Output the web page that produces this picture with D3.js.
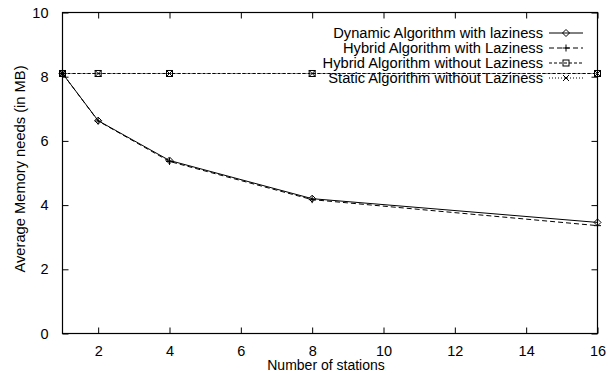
<!DOCTYPE html>
<html><head><meta charset="utf-8">
<script src="https://cdn.jsdelivr.net/npm/d3@7"></script>
<style>body{margin:0;background:#fff}svg{display:block}text{font-family:"Liberation Sans",Arial,sans-serif;fill:#000}</style>
</head><body><svg id="c" width="608" height="373"></svg>
<script>
const stations = [1, 2, 4, 8, 16];
const dynamicLazy = [8.1, 6.63, 5.39, 4.2, 3.46];
const hybridLazy = [8.1, 6.62, 5.36, 4.17, 3.36];
const hybridNoLazy = [8.1, 8.1, 8.1, 8.1, 8.1];
const staticNoLazy = [8.1, 8.1, 8.1, 8.1, 8.1];
const xTicks = [2, 4, 6, 8, 10, 12, 14, 16];
const yTicks = [0, 2, 4, 6, 8, 10];
const seriesNames = ["Dynamic Algorithm with laziness", "Hybrid Algorithm with Laziness", "Hybrid Algorithm without Laziness", "Static Algorithm without Laziness"];

const series = [
  {name: seriesNames[0], values: dynamicLazy, dash: null, marker: "diamond"},
  {name: seriesNames[1], values: hybridLazy, dash: "5,3", marker: "plus"},
  {name: seriesNames[2], values: hybridNoLazy, dash: "3,2", marker: "square"},
  {name: seriesNames[3], values: staticNoLazy, dash: "1,2", marker: "cross"}
];

const L = 62.5, R = 597.5, T = 12.5, B = 333.5;
const svg = d3.select("#c");
const x = d3.scaleLinear().domain([1, 16]).range([L, R]);
const y = d3.scaleLinear().domain([0, 10]).range([B, T]);

const tl = 6;
const g = svg.append("g");
g.append("g").attr("transform", `translate(0,${B})`).call(d3.axisBottom(x).tickValues(xTicks).tickSize(-tl).tickPadding(tl + 6).tickFormat(d3.format("d")));
g.append("g").attr("transform", `translate(0,${T})`).call(d3.axisTop(x).tickValues(xTicks).tickSize(-tl).tickFormat(""));
g.append("g").attr("transform", `translate(${L},0)`).call(d3.axisLeft(y).tickValues(yTicks).tickSize(-tl).tickPadding(tl + 8).tickFormat(d3.format("d")));
g.append("g").attr("transform", `translate(${R},0)`).call(d3.axisRight(y).tickValues(yTicks).tickSize(-tl).tickFormat(""));
g.selectAll(".domain").remove();
g.selectAll(".tick line").attr("stroke", "#000");
g.selectAll(".tick text").style("font-size", "14.5px").style("font-family", "Liberation Sans, Arial, sans-serif");
svg.append("rect").attr("x", L).attr("y", T).attr("width", R - L).attr("height", B - T).attr("fill", "none").attr("stroke", "#000").attr("stroke-width", 1.2);

function drawMarker(sel, type, cx, cy) {
  const s = 3.5;
  if (type === "diamond") sel.append("path").attr("d", `M${cx},${cy - s}L${cx + s},${cy}L${cx},${cy + s}L${cx - s},${cy}Z`).attr("fill", "none").attr("stroke", "#000").attr("stroke-width", 1);
  if (type === "plus") sel.append("path").attr("d", `M${cx - s},${cy}H${cx + s}M${cx},${cy - s}V${cy + s}`).attr("stroke", "#000").attr("stroke-width", 1);
  if (type === "square") sel.append("rect").attr("x", cx - 3).attr("y", cy - 3).attr("width", 6).attr("height", 6).attr("fill", "none").attr("stroke", "#000").attr("stroke-width", 1);
  if (type === "cross") sel.append("path").attr("d", `M${cx - 3},${cy - 3}L${cx + 3},${cy + 3}M${cx - 3},${cy + 3}L${cx + 3},${cy - 3}`).attr("stroke", "#000").attr("stroke-width", 1);
}

const line = d3.line().x(d => x(d[0])).y(d => y(d[1]));
const plot = svg.append("g");
series.forEach(s => {
  const pts = stations.map((st, i) => [st, s.values[i]]);
  plot.append("path").attr("d", line(pts)).attr("fill", "none").attr("stroke", "#000").attr("stroke-width", 1).attr("stroke-dasharray", s.dash);
  pts.forEach(p => drawMarker(plot, s.marker, x(p[0]), y(p[1])));
});

const leg = svg.append("g");
series.forEach((s, i) => {
  const ly = 33 + i * 15;
  leg.append("text").attr("x", 543).attr("y", ly).attr("dy", "0.35em").attr("text-anchor", "end").style("font-size", "14.7px").text(s.name);
  leg.append("line").attr("x1", 549).attr("x2", 583).attr("y1", ly).attr("y2", ly).attr("stroke", "#000").attr("stroke-width", 1).attr("stroke-dasharray", s.dash);
  drawMarker(leg, s.marker, 566, ly);
});

svg.append("text").attr("x", 326).attr("y", 370).attr("text-anchor", "middle").style("font-size", "14px").text("Number of stations");
svg.append("text").attr("transform", `translate(25,169) rotate(-90)`).attr("text-anchor", "middle").style("font-size", "14.7px").text("Average Memory needs (in MB)");
</script></body></html>
